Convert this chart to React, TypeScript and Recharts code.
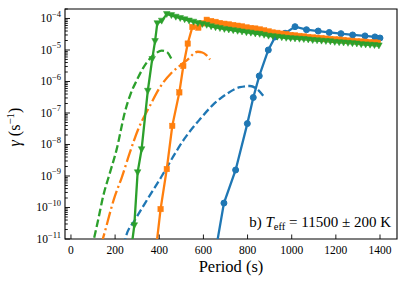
import React from 'react';
import { LineChart, Line, XAxis, YAxis, ReferenceArea } from 'recharts';

// [period (s), gamma (s^-1)]
const blueSolid: [number, number][] = [
  [649, 2.3e-12], [693, 1.38e-10], [746, 1.55e-9], [799, 4.6e-8], [826, 3.1e-7], [853, 1.5e-6],
  [894, 1.0e-5], [925, 2.6e-5], [970, 3.4e-5], [1015, 5.5e-5], [1067, 4.4e-5], [1120, 4.0e-5],
  [1170, 3.6e-5], [1223, 3.3e-5], [1276, 3.0e-5], [1332, 2.8e-5], [1377, 2.6e-5], [1400, 2.4e-5],
];
const blueDashed: [number, number][] = [
  [240, 6e-12], [248, 1.12e-11], [290, 4.0e-11], [350, 2.0e-10], [411, 9.8e-10], [458, 3.6e-9],
  [512, 1.45e-8], [584, 6.3e-8], [643, 1.8e-7], [705, 4.0e-7], [766, 6.6e-7], [811, 7.2e-7],
  [841, 5.9e-7], [871, 3.5e-7],
];
const orangeSolid: [number, number][] = [
  [380, 2.3e-12], [406, 8.9e-11], [434, 1.66e-9], [459, 3.9e-8], [491, 4.5e-7], [509, 3.1e-6],
  [529, 1.6e-5], [550, 5.4e-5], [577, 5.1e-5], [595, 7.0e-5], [615, 9.1e-5], [635, 8.3e-5],
  [655, 7.8e-5], [675, 7.2e-5], [695, 6.8e-5], [715, 6.5e-5], [735, 6.2e-5], [755, 5.9e-5],
  [775, 5.6e-5], [795, 5.2e-5], [815, 5.0e-5], [835, 4.8e-5], [855, 4.5e-5], [875, 4.2e-5],
  [895, 3.9e-5], [915, 3.6e-5], [935, 3.5e-5], [955, 3.3e-5], [975, 3.2e-5], [995, 3.0e-5],
  [1015, 2.9e-5], [1035, 2.8e-5], [1055, 2.7e-5], [1075, 2.6e-5], [1095, 2.5e-5], [1115, 2.45e-5],
  [1135, 2.4e-5], [1155, 2.3e-5], [1175, 2.24e-5], [1195, 2.19e-5], [1215, 2.14e-5], [1235, 2.09e-5],
  [1255, 2.0e-5], [1275, 1.95e-5], [1295, 1.9e-5], [1315, 1.86e-5], [1335, 1.82e-5], [1355, 1.78e-5],
  [1375, 1.74e-5], [1390, 1.7e-5],
];
const orangeDashDot: [number, number][] = [
  [135, 6e-12], [146, 1.1e-11], [199, 2.3e-10], [230, 8.9e-10], [267, 5.6e-9], [305, 3.1e-8],
  [358, 1.7e-7], [403, 6.5e-7], [456, 1.9e-6], [494, 3.2e-6], [539, 5.8e-6], [556, 7.8e-6],
  [575, 8.8e-6], [595, 8.3e-6], [612, 7.0e-6], [630, 5.0e-6],
];
const greenSolid: [number, number][] = [
  [267, 2.3e-12], [287, 2.7e-11], [302, 1.3e-9], [320, 7e-9], [348, 5e-7], [368, 5.1e-6],
  [381, 1.9e-5], [391, 7e-5], [411, 8.4e-5], [434, 1.37e-4], [455, 1.26e-4], [475, 1.12e-4],
  [495, 1.02e-4], [515, 9.3e-5], [535, 8.5e-5], [555, 7.8e-5], [575, 7.1e-5], [595, 6.6e-5],
  [615, 6.2e-5], [635, 5.6e-5], [655, 5.2e-5], [675, 4.9e-5], [695, 4.6e-5], [715, 4.4e-5],
  [735, 4.2e-5], [755, 4.0e-5], [775, 3.8e-5], [795, 3.6e-5], [815, 3.5e-5], [835, 3.3e-5],
  [855, 3.2e-5], [875, 3.0e-5], [895, 2.8e-5], [915, 2.7e-5], [935, 2.6e-5], [955, 2.5e-5],
  [975, 2.4e-5], [995, 2.34e-5], [1015, 2.3e-5], [1035, 2.24e-5], [1055, 2.19e-5], [1075, 2.14e-5],
  [1095, 2.04e-5], [1115, 2.0e-5], [1135, 1.95e-5], [1155, 1.9e-5], [1175, 1.86e-5], [1195, 1.78e-5],
  [1215, 1.74e-5], [1235, 1.7e-5], [1255, 1.66e-5], [1275, 1.62e-5], [1295, 1.58e-5], [1315, 1.51e-5],
  [1335, 1.48e-5], [1355, 1.45e-5], [1375, 1.41e-5], [1395, 1.38e-5],
];
const greenDashed: [number, number][] = [
  [95, 5e-12], [106, 1.15e-11], [124, 4.3e-11], [146, 2.3e-10], [177, 1.3e-9], [207, 7e-9],
  [244, 1.05e-7], [270, 4e-7], [297, 1.05e-6], [328, 2.75e-6], [358, 5.4e-6], [385, 7.9e-6],
  [411, 9.5e-6], [434, 8.7e-6], [456, 5e-6],
];

const xTicks = [0, 200, 400, 600, 800, 1000, 1200, 1400];
const yMajorExps = [-11, -10, -9, -8, -7, -6, -5, -4];
const X_DOMAIN: [number, number] = [-27, 1477];
const Y_DOMAIN: [number, number] = [1e-11, 2e-4];

const yTicks: number[] = [];
yMajorExps.forEach((e) => {
  for (let k = 1; k <= 9; k++) {
    const v = k * Math.pow(10, e);
    if (v <= Y_DOMAIN[1]) yTicks.push(v);
  }
});

const toData = (arr: [number, number][]) => arr.map(([x, y]) => ({ x, y }));

const BLUE = '#1f77b4';
const ORANGE = '#ff7f0e';
const GREEN = '#2ca02c';
const FONT = "'Liberation Serif', 'DejaVu Serif', serif";
const TS: React.CSSProperties = { fontFamily: FONT };

const Circle = (p: any) => (
  <circle key={`c${p.index}`} cx={p.cx} cy={p.cy} r={3} fill={BLUE} stroke={BLUE} />
);
const Square = (p: any) => (
  <rect key={`s${p.index}`} x={p.cx - 2.7} y={p.cy - 2.7} width={5.4} height={5.4} fill={ORANGE} stroke={ORANGE} strokeWidth={0.5} />
);
const TriDown = (p: any) => (
  <polygon
    key={`t${p.index}`}
    points={`${p.cx - 3.3},${p.cy - 2.7} ${p.cx + 3.3},${p.cy - 2.7} ${p.cx},${p.cy + 3.3}`}
    fill={GREEN}
    stroke={GREEN}
    strokeWidth={0.5}
  />
);

const YTick = (props: any) => {
  const { x, y, payload } = props;
  const v = payload.value as number;
  const e = Math.log10(v);
  const major = Math.abs(e - Math.round(e)) < 1e-6;
  return (
    <g>
      <line x1={x} x2={x + (major ? 5 : 2.8)} y1={y} y2={y} stroke="#000" strokeWidth={0.9} />
      {major && (
        <text x={x - 4} y={y + 4} textAnchor="end" style={TS} fontSize={11.5} fill="#000">
          <tspan>10</tspan>
          <tspan dy={-5.5} fontSize={8.5}>{`\u2212${-Math.round(e)}`}</tspan>
        </text>
      )}
    </g>
  );
};

const XTick = (props: any) => {
  const { x, y, payload } = props;
  return (
    <g>
      <line x1={x} x2={x} y1={y} y2={y - 4.5} stroke="#000" strokeWidth={0.9} />
      <text x={x} y={y + 15} textAnchor="middle" style={TS} fontSize={11.5} fill="#000">
        {payload.value}
      </text>
    </g>
  );
};

export default function App() {
  return (
    <div style={{ position: 'fixed', left: 0, top: 0, background: '#fff', fontFamily: FONT }}>
      <LineChart width={407} height={286} margin={{ top: 9, right: 10, bottom: 0, left: 0 }} style={TS}>
        <XAxis
          type="number"
          dataKey="x"
          domain={X_DOMAIN}
          allowDataOverflow
          ticks={xTicks}
          interval={0}
          tick={<XTick />}
          tickLine={false}
          axisLine={false}
          tickSize={0}
          tickMargin={0}
          height={47}
        />
        <YAxis
          type="number"
          dataKey="y"
          scale="log"
          domain={Y_DOMAIN}
          allowDataOverflow
          ticks={yTicks}
          interval={0}
          tick={<YTick />}
          tickLine={false}
          axisLine={false}
          tickSize={0}
          tickMargin={0}
          width={65}
        />
        <Line data={toData(blueSolid)} dataKey="y" stroke={BLUE} strokeWidth={2.3} dot={Circle} isAnimationActive={false} />
        <Line data={toData(blueDashed)} dataKey="y" type="monotone" stroke={BLUE} strokeWidth={2.3} strokeDasharray="7.7 3.3" dot={false} isAnimationActive={false} />
        <Line data={toData(orangeSolid)} dataKey="y" stroke={ORANGE} strokeWidth={2.3} dot={Square} isAnimationActive={false} />
        <Line data={toData(orangeDashDot)} dataKey="y" type="monotone" stroke={ORANGE} strokeWidth={2.3} strokeDasharray="13.3 3.3 2.1 3.3" dot={false} isAnimationActive={false} />
        <Line data={toData(greenSolid)} dataKey="y" stroke={GREEN} strokeWidth={2.3} dot={TriDown} isAnimationActive={false} />
        <Line data={toData(greenDashed)} dataKey="y" type="monotone" stroke={GREEN} strokeWidth={2.3} strokeDasharray="7.7 3.3" dot={false} isAnimationActive={false} />
        <ReferenceArea x1={X_DOMAIN[0]} x2={X_DOMAIN[1]} y1={Y_DOMAIN[0]} y2={Y_DOMAIN[1]} fill="none" fillOpacity={0} stroke="#000" strokeWidth={1.1} ifOverflow="visible" />
        <text x={20} y={127} transform="rotate(-90 20 127)" textAnchor="middle" style={TS} fontSize={16} fill="#000">
          <tspan fontStyle="italic">γ</tspan>
          <tspan> (s</tspan>
          <tspan dy={-6} fontSize={11}>−1</tspan>
          <tspan dy={6}>)</tspan>
        </text>
        <text x={231} y={272} textAnchor="middle" style={TS} fontSize={16.5} fill="#000">
          Period (s)
        </text>
        <text x={391} y={227} textAnchor="end" style={TS} fontSize={15} fill="#000">
          <tspan>b) </tspan>
          <tspan fontStyle="italic">T</tspan>
          <tspan dy={3} fontSize={10.5}>eff</tspan>
          <tspan dy={-3}> = 11500 ± 200 K</tspan>
        </text>
      </LineChart>
    </div>
  );
}
